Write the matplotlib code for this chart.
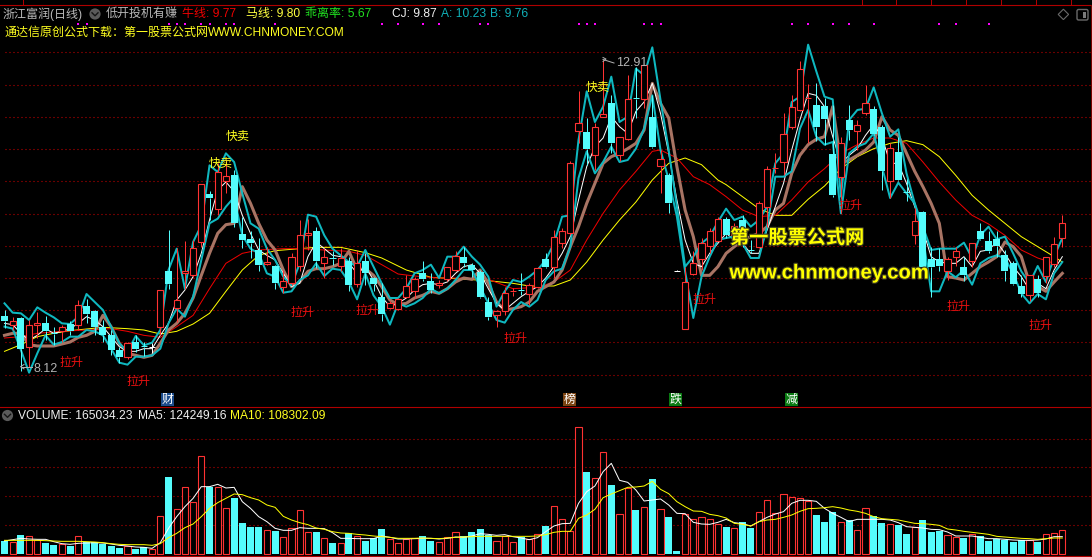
import numpy as np
import matplotlib
matplotlib.use("Agg")
import matplotlib.pyplot as plt
from matplotlib.patches import Circle, Polygon, FancyBboxPatch, Rectangle
import matplotlib.patheffects as pe

FONT = ['Liberation Sans', 'Noto Sans CJK SC', 'DejaVu Sans']
CJK = ['Noto Sans CJK SC', 'DejaVu Sans']
plt.rcParams['font.family'] = FONT

# ---- candles (price) -------------------------------------------------
directions = ("crcrrccrcr" "cccccrccwr" "crrrrcrrcc" "ccrcrrrrcr" "crcrcccrrr"
              "rccrrrcccc" "rrrcrrcrrr" "rcrrcrrcrc" "rcwrrrrrcr" "ccrrrrrrrc"
              "ccrcrrccrc" "crcccrrcrc" "cccccrcrrr")
volume_dirs = ("crcrrccrcr" "cccccrccrr" "crrrrcrrcc" "ccrcrrrrcr" "crcrcccrrr"
               "rccrrrcccc" "rrrcrrcrrr" "rcrrcrrcrc" "rccrrrrrcr" "ccrrrrrrrc"
               "ccrcrrccrc" "crcccrrcrc" "cccccrcrrr")
highs = [9.10,9.00,9.00,8.95,9.07,9.01,8.85,8.87,8.94,9.25,
         9.27,9.10,8.95,8.80,8.55,8.62,8.72,8.62,8.60,9.40,
         10.30,10.03,10.13,10.15,10.99,10.88,11.30,11.35,11.20,10.50,
         10.28,10.18,10.05,9.78,9.70,9.95,10.45,10.47,10.35,10.03,
         9.98,10.03,9.90,10.00,9.95,9.60,9.50,9.23,9.28,9.63,
         9.60,9.84,9.65,9.55,9.75,9.99,10.04,9.80,9.70,9.30,
         9.10,9.45,9.43,9.65,9.50,9.74,9.95,10.30,10.33,11.33,
         12.39,11.98,11.90,12.85,12.33,11.70,12.63,12.75,12.78,12.33,
         11.50,11.15,9.70,9.75,9.98,10.18,10.33,10.50,10.50,10.40,
         10.53,10.15,10.73,11.26,11.45,12.05,12.33,12.83,12.49,12.50,
         12.28,12.18,11.70,12.18,11.95,12.47,12.16,11.88,11.60,11.70,
         11.06,10.63,10.58,10.05,10.03,9.90,10.05,9.90,10.11,10.41,
         10.28,10.28,10.00,9.83,9.63,9.63,9.63,9.90,10.20,10.53]
body_tops = [9.01,8.94,8.98,8.88,8.91,8.90,8.75,8.85,8.89,9.17,
             9.16,9.09,8.84,8.72,8.50,8.61,8.62,8.56,8.55,9.40,
             9.68,9.25,9.69,10.03,10.99,10.84,11.17,11.11,11.13,10.24,
             10.16,10.00,9.82,9.76,9.53,9.89,10.22,10.25,10.29,9.90,
             9.88,9.88,9.83,9.81,9.83,9.58,9.30,9.20,9.26,9.46,
             9.57,9.66,9.54,9.51,9.74,9.91,9.89,9.78,9.67,9.22,
             9.08,9.36,9.38,9.40,9.48,9.73,9.86,10.19,10.29,11.30,
             11.90,11.77,11.84,12.04,12.20,11.69,12.27,12.28,12.77,11.99,
             11.36,11.13,9.69,9.52,9.80,10.10,10.28,10.46,10.47,10.36,
             10.45,10.00,10.70,11.21,11.23,11.74,12.14,12.71,12.28,12.18,
             12.16,11.44,11.60,11.95,11.87,12.20,12.11,11.84,11.53,11.47,
             10.87,10.43,10.57,9.87,9.87,9.86,9.99,9.74,10.10,10.29,
             10.14,10.16,9.93,9.80,9.46,9.62,9.57,9.89,10.09,10.40]
body_bottoms = [8.93,8.88,8.52,8.54,8.87,8.79,8.74,8.79,8.79,8.88,
                9.04,8.84,8.72,8.50,8.40,8.39,8.52,8.55,8.55,8.85,
                9.49,9.13,9.66,9.63,10.12,10.78,10.62,11.03,10.41,10.15,
                10.11,9.78,9.79,9.50,9.45,9.50,9.76,10.22,9.83,9.81,
                9.86,9.76,9.47,9.49,9.66,9.49,9.04,9.13,9.12,9.30,
                9.38,9.57,9.40,9.48,9.56,9.70,9.80,9.70,9.30,8.99,
                9.02,9.08,9.37,9.39,9.34,9.45,9.75,9.74,10.10,10.25,
                11.79,11.51,11.43,12.00,11.61,11.42,11.67,12.27,12.27,11.54,
                11.26,10.71,9.69,8.81,9.64,9.87,10.06,10.14,10.23,10.23,
                10.29,9.99,10.05,10.64,11.22,11.32,11.84,12.10,12.27,11.85,
                11.97,10.83,11.10,11.80,11.79,12.05,11.74,11.19,11.03,11.05,
                10.86,10.22,9.74,9.74,9.76,9.69,9.90,9.63,9.84,10.16,
                9.98,10.06,9.68,9.49,9.34,9.33,9.35,9.61,9.79,10.18]
lows = [8.83,8.80,8.18,8.25,8.68,8.65,8.58,8.62,8.73,8.80,
        8.90,8.73,8.62,8.42,8.30,8.37,8.47,8.41,8.45,8.73,
        9.41,8.92,9.42,9.60,10.05,10.45,10.53,10.85,10.35,10.03,
        9.88,9.68,9.78,9.42,9.35,9.48,9.68,10.00,9.73,9.58,
        9.78,9.68,9.38,9.45,9.48,9.38,8.93,9.11,9.10,9.28,
        9.28,9.53,9.35,9.43,9.53,9.68,9.75,9.60,9.28,8.95,
        8.85,9.03,9.31,9.33,9.18,9.43,9.73,9.58,10.03,10.23,
        11.60,11.28,11.20,11.99,11.45,11.33,11.65,11.98,12.13,11.53,
        10.85,10.55,9.68,8.81,9.63,9.70,9.95,10.13,10.18,10.15,
        10.05,9.95,10.03,10.35,11.15,11.13,11.81,12.08,11.60,11.63,
        11.58,10.80,10.55,11.65,11.50,12.03,11.73,10.90,10.78,11.03,
        10.74,10.09,9.70,9.30,9.68,9.55,9.76,9.53,9.75,10.15,
        9.95,9.90,9.53,9.48,9.30,9.24,9.29,9.50,9.75,10.04]

# ---- price lines, in hundredths of the price ---------------------------
band_upper = [920,906,905,895,914,906,899,890,889,900,
              934,922,910,885,860,847,871,857,861,880,
              970,1002,942,1012,1037,1127,1117,1145,1132,1085,
              1040,1032,1002,985,960,947,980,1053,1050,1022,
              1002,992,982,975,1000,975,950,928,928,942,
              965,970,978,958,990,990,1005,990,978,960,
              915,938,955,952,960,970,985,1010,1050,1052,
              1165,1238,1192,1215,1260,1192,1200,1272,1262,1304,
              1225,1150,1065,975,990,1010,1020,1042,1062,1045,
              1050,1035,1045,1065,1130,1145,1222,1230,1308,1268,
              1230,1226,1080,1195,1210,1212,1244,1205,1170,1181,
              1115,1070,1035,1000,1002,1002,1002,1011,988,1022,
              1035,1016,1020,995,968,950,976,952,990,1018]
band_lower = [885,882,850,816,845,872,858,862,870,870,
              880,878,872,852,831,828,840,840,842,852,
              890,912,900,930,985,1040,1047,1065,1079,1022,
              1002,995,965,960,936,938,955,962,980,961,
              972,970,952,926,965,932,915,888,920,915,
              920,928,942,935,942,955,970,970,945,920,
              895,891,910,922,915,925,955,968,972,1005,
              1108,1148,1115,1132,1155,1132,1135,1152,1182,1232,
              1150,1105,1050,968,898,960,990,1015,1018,1020,
              1010,988,988,1035,1110,1110,1118,1182,1210,1170,
              1158,1162,1055,1145,1155,1160,1175,1125,1078,1101,
              1085,1070,1020,938,938,968,959,970,948,980,
              988,992,988,965,935,920,934,926,965,982]
cj_line = [890,888,875,865,872,882,875,878,882,890,
           900,895,885,870,855,848,848,852,852,872,
           890,925,940,960,995,1045,1090,1102,1088,1052,
           1025,1000,992,985,965,945,950,990,1012,1002,
           992,990,980,965,975,955,930,915,920,928,
           940,948,950,948,952,965,975,978,965,942,
           920,910,920,930,938,945,958,975,995,1020,
           1075,1125,1155,1168,1200,1185,1175,1208,1222,1250,
           1205,1145,1075,1015,980,975,995,1010,1025,1015,
           1010,995,995,1030,1065,1100,1150,1195,1235,1232,
           1215,1170,1130,1142,1152,1172,1188,1170,1130,1130,
           1100,1065,1030,990,982,980,980,990,975,998,
           1000,1012,995,975,960,940,950,942,970,990]
brown_line = [872,875,875,858,856,856,856,859,862,869,
              872,878,902,885,860,845,842,839,842,860,
              880,890,905,928,962,995,1025,1038,1040,1095,
              1070,1040,1015,1000,970,945,952,968,972,972,
              975,980,998,970,972,962,945,925,918,920,
              928,932,938,935,942,952,958,956,970,950,
              922,910,912,915,922,938,945,952,970,1005,
              1035,1070,1100,1130,1140,1145,1152,1160,1180,1250,
              1220,1198,1125,1060,1020,962,962,975,995,1005,
              1015,1020,1025,1035,1060,1070,1115,1142,1158,1166,
              1170,1215,1130,1135,1142,1150,1162,1200,1180,1172,
              1145,1118,1095,1070,1040,960,958,955,965,975,
              982,990,1012,1005,990,950,945,938,952,965]
# the two slow averages, read at selected bars
red_bars = [0,2,4,7,10,13,15,17,19,21,23,25,27,29,31,34,36,39,42,
            44,46,48,50,53,56,59,62,65,67,69,71,73,75,77,79,80,82,84,86,88,
            90,92,94,96,98,100,102,104,106,108,110,112,114,116,118,120,122,124,126,128]
red_line = [868,870,875,878,880,882,878,872,869,885,902,942,980,995,1000,1002,1002,1000,998,
            992,978,964,961,958,958,956,942,944,952,970,1015,1055,1090,1118,1148,1150,1138,1110,1098,1080,
            1060,1050,1052,1075,1102,1122,1145,1158,1168,1168,1160,1132,1102,1075,1052,1039,1022,1000,988,980]
yellow_bars = [0,2,4,6,8,12,15,17,19,21,23,25,27,29,31,33,36,38,41,
               44,46,49,52,55,59,62,64,67,69,71,73,75,77,79,81,83,85,87,88,
               90,92,94,96,98,100,102,104,106,108,110,112,114,116,118,120,122,124,126,128,129]
yellow_line = [848,858,870,875,879,884,882,880,874,878,889,905,938,970,992,999,1002,1004,1004,
               996,988,970,959,957,954,950,946,946,955,982,1015,1045,1072,1105,1130,1138,1128,1105,1098,
               1080,1062,1052,1052,1076,1096,1122,1140,1152,1160,1164,1158,1140,1112,1082,1060,1040,1020,1005,990,982]

# ---- volume, in chart units of roughly 2360 shares ---------------------
volume = [38,36,56,52,40,32,26,28,24,52,
          34,34,30,24,18,22,14,19,13,112,
          230,133,199,154,292,199,199,136,167,92,
          80,80,70,68,49,76,130,64,65,46,
          32,31,61,52,38,47,74,43,31,43,
          46,53,38,34,49,64,53,65,74,56,
          37,52,34,50,43,60,83,142,103,67,
          379,245,226,304,206,118,198,131,139,224,
          133,110,8,118,103,109,103,88,80,76,
          95,77,124,160,121,178,169,166,159,116,
          95,125,94,102,70,136,113,92,88,86,
          59,80,101,65,68,55,49,47,58,54,
          38,44,41,35,41,41,35,58,61,70]
volume_ma5 = [38,42,46,44,43,43,36,30,28,31,
              32,33,32,29,25,23,20,19,16,33,
              76,111,141,166,201,201,208,197,199,156,
              136,111,96,76,70,70,78,76,76,75,
              63,46,46,45,45,45,53,49,44,44,
              45,46,46,44,46,50,49,53,60,58,
              55,57,51,47,42,48,66,83,90,91,
              151,186,203,246,271,220,214,191,158,161,
              164,146,121,120,94,89,88,94,103,93,
              90,83,96,109,119,126,151,160,160,157,
              136,121,109,96,103,103,103,103,101,93,
              81,79,77,73,72,65,53,53,53,49,
              45,45,43,41,40,40,41,44,51,51]
volume_ma10 = [40,40,40,40,40,39,38,37,37,37,
               36,35,33,30,28,27,27,27,25,30,
               48,61,78,89,111,136,153,166,179,177,
               168,161,146,139,112,101,93,87,77,73,
               66,62,61,58,56,53,51,49,46,46,
               46,47,46,45,47,49,50,51,52,52,
               52,52,52,52,52,53,57,64,67,67,
               106,116,133,168,179,189,199,200,203,217,
               193,180,156,141,128,127,118,114,107,91,
               88,83,96,101,103,109,116,127,135,136,
               138,141,137,131,127,121,111,105,103,101,
               96,91,90,88,85,74,71,67,64,61,
               58,52,50,48,46,45,43,45,47,47]

# ---- annotations -------------------------------------------------------
rise_labels_bar = [8.2, 16.3, 36.3, 44.3, 62.3, 85.4, 103.2, 116.3, 126.3]
rise_labels_price = [8.32, 8.035, 9.07, 9.10, 8.68, 9.265, 10.675, 9.16, 8.875]
sell_labels_bar = [28.4, 26.4, 72.3]
sell_labels_price = [11.71, 11.305, 12.445]
dot_bars = [9,10,20,21,22,24,25,27,28,33,46,48,51,53,58,59,70,71,72,78,79,80,
            96,98,101,103,106,114,116,120]
price_grid = [12.965,12.47,11.99,11.51,11.03,10.535,10.055,9.575,9.095,8.615,8.12]
volume_grid = [345,259,172,85]

n = len(highs)
for arr in (body_tops, body_bottoms, lows, band_upper, band_lower, cj_line, brown_line,
            volume, volume_ma5, volume_ma10, directions, volume_dirs):
    assert len(arr) == n, len(arr)
assert len(red_bars) == len(red_line) and len(yellow_bars) == len(yellow_line)

BG = '#000000'
CYAN = '#54fcfc'
RED = '#ff3232'
GRID = '#d00000'
FRAME = '#b00000'
W, H = 1092, 557

fig = plt.figure(figsize=(W/100, H/100), dpi=100, facecolor=BG)
x = np.arange(n)
XLIM = (-0.549, 132.62)
THIN = 0.72

# ---- price pane ---------------------------------------------------------
ax = fig.add_axes([0, (H-407)/H, 1, (407-15)/H], facecolor=BG)
ax.set_xlim(*XLIM)
ax.set_ylim(7.645, 13.525)
ax.axis('off')
dotted = (0, (0.9, 2.7))
ax.hlines(price_grid, 0, XLIM[1], colors=GRID, lw=0.8, linestyles=[dotted], zorder=1)

ax.plot(yellow_bars, np.array(yellow_line)/100, color='#ffff00', lw=THIN, zorder=2)
ax.plot(red_bars, np.array(red_line)/100, color='#f00000', lw=THIN, zorder=2)
ax.plot(x, np.array(brown_line)/100, color='#a87464', lw=2.2, zorder=3)
ax.plot(x, np.array(cj_line)/100, color='#ffffff', lw=THIN, zorder=4)
ax.plot(x, np.array(band_upper)/100, color='#0fb8c0', lw=1.45, zorder=5)
ax.plot(x, np.array(band_lower)/100, color='#0fb8c0', lw=1.45, zorder=5)

BW_UP = 0.76
BW_DOWN = 0.86
for i in range(n):
    d = directions[i]
    col = {'c': CYAN, 'r': RED, 'w': '#ffffff'}[d]
    ax.vlines(i, body_tops[i], highs[i], color=col, lw=THIN, zorder=6)
    ax.vlines(i, lows[i], body_bottoms[i], color=col, lw=THIN, zorder=6)
    height = body_tops[i] - body_bottoms[i]
    if height < 0.025:
        ax.hlines(body_tops[i], i-BW_UP/2, i+BW_UP/2, color=col, lw=THIN, zorder=7)
    elif d == 'c':
        ax.bar(i, height, BW_DOWN, body_bottoms[i], color=CYAN, lw=0, zorder=7)
    else:
        ax.bar(i, height, BW_UP, body_bottoms[i], facecolor=BG, edgecolor=col, lw=0.8, zorder=7)

ax.plot(dot_bars, [13.39]*len(dot_bars), ls='', marker='s', ms=1.8, mew=0, color='#ff00ff', zorder=8)
for b, p in zip(rise_labels_bar, rise_labels_price):
    ax.text(b, p, '拉升', color='#e81010', fontsize=8.65, family=CJK, ha='center', va='center', zorder=9)
for b, p in zip(sell_labels_bar, sell_labels_price):
    ax.text(b, p, '快卖', color='#ffff20', fontsize=8.65, family=CJK, ha='center', va='center', zorder=9)

# ---- volume pane ---------------------------------------------------------
vx = fig.add_axes([0, (H-556)/H, 1, (556-407)/H], facecolor=BG)
vx.set_xlim(*XLIM)
vx.set_ylim(-7, 440)
vx.axis('off')
vx.hlines(volume_grid, 0, XLIM[1], colors=GRID, lw=0.8, linestyles=[dotted], zorder=1)
for i in range(n):
    if volume_dirs[i] == 'c':
        vx.bar(i, volume[i], BW_DOWN, color=CYAN, lw=0, zorder=2)
    else:
        vx.bar(i, volume[i], BW_UP, facecolor=BG, edgecolor=RED, lw=0.8, zorder=2)
vx.plot(x, volume_ma5, color='#ffffff', lw=THIN, zorder=3)
vx.plot(x, volume_ma10, color='#ffff00', lw=THIN, zorder=4)

# ---- overlay in pixel coordinates: frame, header and watermark ---------------
ov = fig.add_axes([0, 0, 1, 1], facecolor='none', zorder=20)
ov.set_xlim(0, W)
ov.set_ylim(H, 0)
ov.axis('off')

for yy in (4.5, 407, 556):
    ov.plot([0, W], [yy, yy], color=FRAME, lw=0.8)
for xx in (23, 862, 895.5, 931, 965.5, 1001, 1035.5, 1071):
    ov.plot([xx, xx], [0, 4.5], color=FRAME, lw=0.72)
ov.plot([1091, 1091], [5, 556], color='#7a0000', lw=0.72)


def hdr(px, py, s, color, fs=8.65):
    ov.text(px, py, s, color=color, fontsize=fs, family=FONT, ha='left', va='center')


hdr(3, 14, '浙江富润(日线)', '#b8b8b8')
hdr(105.5, 14, '低开投机有赚', '#b8b8b8')
hdr(182, 14, '牛线: 9.77', '#f00000')
hdr(246, 14, '马线: 9.80', '#ffff40')
hdr(305, 14, '乖离率: 5.67', '#20e020')
hdr(392, 14, 'CJ: 9.87', '#f0f0f0')
hdr(441, 14, 'A: 10.23', '#10b0b8')
hdr(490.5, 14, 'B: 9.76', '#10b0b8')
hdr(4, 33, '通达信原创公式下载：第一股票公式网', '#ffff20')
hdr(208, 33, 'WWW.CHNMONEY.COM', '#ffff20')
hdr(18, 416, 'VOLUME: 165034.23', '#f0f0f0')
hdr(137.5, 416, 'MA5: 124249.16', '#f0f0f0')
hdr(230.5, 416, 'MA10: 108302.09', '#ffff20')


def chevron(cx, cy):
    ov.add_patch(Circle((cx, cy), 5.6, fc='#5a5a5a', ec='none'))
    ov.plot([cx-3, cx, cx+3], [cy-1.2, cy+1.8, cy-1.2], color='#151515', lw=1.0)


chevron(95, 14)
chevron(7.5, 415.5)

ov.add_patch(Polygon([(1063.4, 9.2), (1068.6, 14.4), (1063.4, 19.6), (1058.2, 14.4)],
                     closed=True, fc='none', ec='#6a6a6a', lw=0.8))
ov.add_patch(FancyBboxPatch((1077, 9.5), 11, 10.5, boxstyle='round,pad=0,rounding_size=1.6',
                            fc='none', ec='#6a6a6a', lw=1.0))
ov.add_patch(Rectangle((1083, 11.5), 3.2, 6.5, fc='#7a7a7a', ec='none'))

# extreme-price labels
ov.plot([20.5, 32], [366.7, 366.7], color='#b0b0b0', lw=0.72)
ov.plot([24, 20.5, 24], [364.5, 366.7, 368.9], color='#b0b0b0', lw=0.72)
ov.text(33.5, 369, '8.12', color='#b4b4b4', fontsize=9.0, ha='left', va='center')
ov.plot([603, 614], [59.5, 63], color='#b0b0b0', lw=0.72)
ov.plot([603, 606, 603], [61.5, 59, 57.5], color='#b0b0b0', lw=0.72)
ov.text(616, 63, '12.91', color='#b4b4b4', fontsize=9.0, ha='left', va='center')

# event tags
for cx, s, bg in ((167.5, '财', '#1c4c8c'), (569.5, '榜', '#7c4412'),
                  (675.5, '跌', '#0a7a12'), (791.5, '减', '#0a7a12')):
    ov.add_patch(Rectangle((cx-6.5, 393), 13, 12.5, fc=bg, ec='none'))
    ov.text(cx, 399.1, s, color='#ffffff', fontsize=8.6, family=CJK, ha='center', va='center')

# watermark
shadow = [pe.withStroke(linewidth=1.6, foreground='#3c3c20')]
ov.text(797, 238, '第一股票公式网', color='#ffff00', fontsize=13.8, family=CJK, weight='bold',
        ha='center', va='center', path_effects=shadow)
ov.text(829, 273, 'www.chnmoney.com', color='#ffff00', fontsize=14.6, family=['Liberation Sans'],
        weight='bold', ha='center', va='center', path_effects=shadow)

fig.savefig('out.png', dpi=100, facecolor=BG)
